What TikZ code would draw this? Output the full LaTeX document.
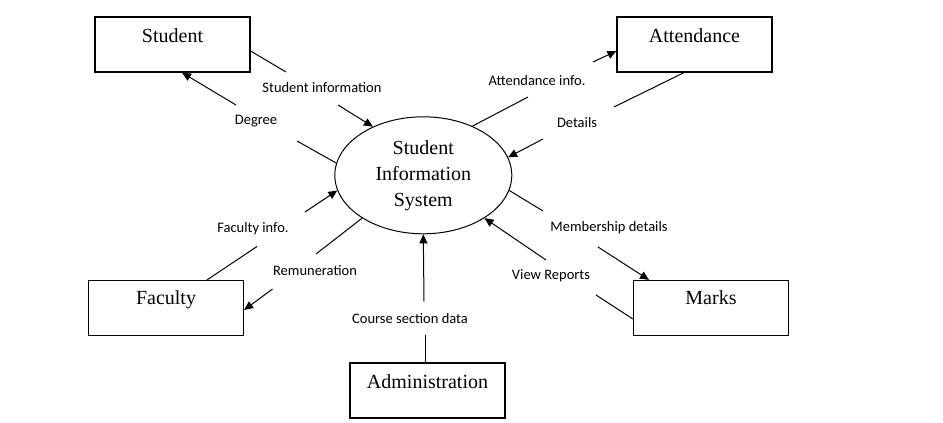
\documentclass[tikz,border=0pt]{standalone}
\usepackage{fontspec}
\setmainfont{Liberation Serif}
\newfontfamily\lblfont{Carlito}
\usetikzlibrary{arrows.meta,shapes.geometric,calc}
\tikzset{
  entity/.style={draw, line width=1.2pt, minimum width=155pt, minimum height=55pt, inner sep=0pt},
  entitytext/.style={font=\fontsize{20}{24}\selectfont, inner sep=0pt},
  process/.style={draw, line width=1pt, ellipse, minimum width=177pt, minimum height=117pt, inner sep=0pt, align=center, font=\fontsize{20}{26}\selectfont},
  flowlbl/.style={font=\lblfont\fontsize{14.5}{16}\selectfont, inner sep=0pt},
  flow/.style={line width=1pt},
  flowarrow/.style={line width=1pt, -{Triangle[length=9pt,width=8pt]}}
}
\begin{document}
\begin{tikzpicture}[x=1pt,y=-1pt]
\useasboundingbox (0,0) rectangle (943,423);

% process
\node[process] (sis) at (423.3,175.3) {Student\\Information\\System};

% entities
\node[entity] (student) at (172.5,44.5) {};
\node[entitytext] at ($(student.north)+(0,19)$) {Student};
\node[entity] (att) at (694.5,44.5) {};
\node[entitytext] at ($(att.north)+(0,19)$) {Attendance};
\node[entity] (faculty) at (166,308) {};
\node[entitytext] at ($(faculty.north)+(0,20)$) {Faculty};
\node[entity] (marks) at (711,308) {};
\node[entitytext] at ($(marks.north)+(0,18)$) {Marks};
\node[entity] (admin) at (427.5,390.5) {};
\node[entitytext] at ($(admin.north)+(0,19)$) {Administration};

% free ends
\coordinate (si1) at (286,72);   \coordinate (si2) at (338,105);
\coordinate (dg1) at (236,105);  \coordinate (dg2) at (297,141);
\coordinate (fi1) at (257,246.5);\coordinate (fi2) at (305,212);
\coordinate (rm1) at (316,254);  \coordinate (rm2) at (272.5,289);
\coordinate (cs1) at (425.5,335);\coordinate (cs2) at (424,301.7);
\coordinate (vr1) at (546,260);  \coordinate (vr2) at (596,295);
\coordinate (md1) at (543,211);  \coordinate (md2) at (598,247);
\coordinate (ai1) at (528,97);   \coordinate (ai2) at (593,62);
\coordinate (dt1) at (614,107);  \coordinate (dt2) at (543,139);

% Student information
\draw[flow] ($(student.east)+(0,6.5)$) -- (si1);
\draw[flowarrow] (si2) -- (sis.136.6);
\node[flowlbl] at (322,88) {Student information};

% Degree
\draw[flow] (sis.172.6) -- (dg2);
\draw[flowarrow] (dg1) -- ($(student.south)+(9.5,0)$);
\node[flowlbl] at (256,121) {Degree};

% Faculty info.
\draw[flow] ($(faculty.north)+(41,0)$) -- (fi1);
\draw[flowarrow] (fi2) -- (sis.190.7);
\node[flowlbl] at (253,229) {Faculty info.};

% Remuneration
\draw[flow] (sis.215.7) -- (rm1);
\draw[flowarrow] (rm2) -- ($(faculty.east)+(0,2)$);
\node[flowlbl] at (315,271) {Remuneration};

% Course section data
\draw[flow] ($(admin.north)+(-2,0)$) -- (cs1);
\draw[flowarrow] (cs2) -- (sis.south);
\node[flowlbl] at (410,319) {Course section data};

% View Reports
\draw[flow] ($(marks.west)+(0,11)$) -- (vr2);
\draw[flowarrow] (vr1) -- (sis.325.8);
\node[flowlbl] at (551,276) {View Reports};

% Membership details
\draw[flow] (sis.-10.1) -- (md1);
\draw[flowarrow] (md2) -- ($(marks.north)+(-62,0)$);
\node[flowlbl] at (609,228) {Membership details};

% Attendance info.
\draw[flow] (sis.45.3) -- (ai1);
\draw[flowarrow] (ai2) -- ($(att.west)+(0,6.5)$);
\node[flowlbl] at (537,81) {Attendance info.};

% Details
\draw[flow] ($(att.south)+(-10.5,0)$) -- (dt1);
\draw[flowarrow] (dt2) -- (sis.12.3);
\node[flowlbl] at (577,123) {Details};
\end{tikzpicture}
\end{document}
